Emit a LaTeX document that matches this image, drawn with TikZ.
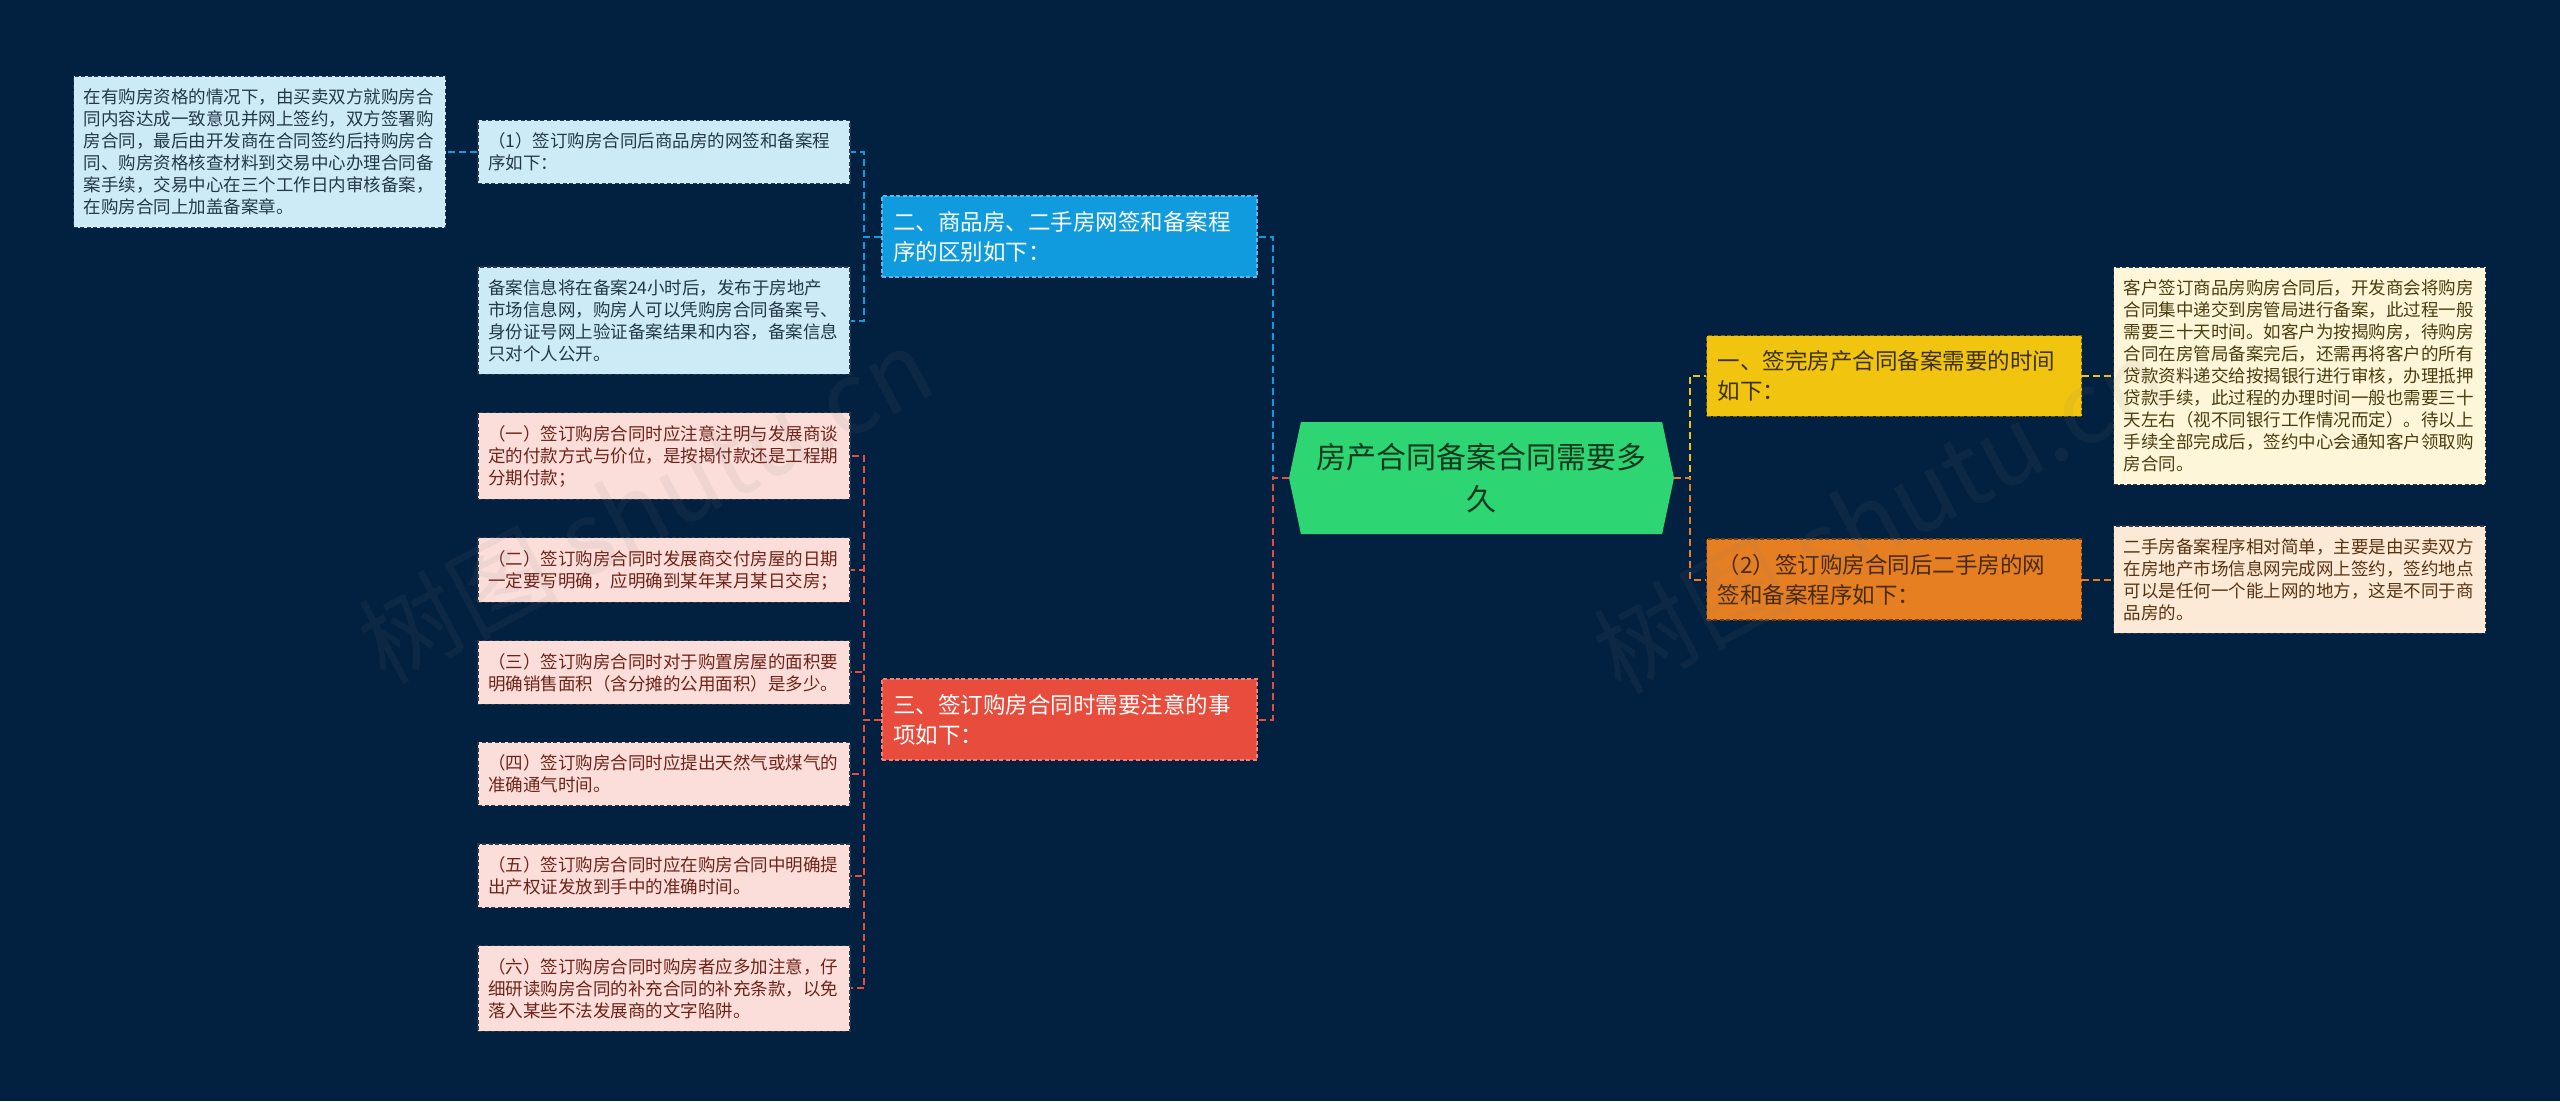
\documentclass[tikz,border=0pt]{standalone}
\usepackage{fontspec}
\setmainfont{Noto Sans CJK SC}
\usetikzlibrary{positioning,shapes.symbols}

\definecolor{bg}{HTML}{02203F}
\definecolor{rootfill}{HTML}{2ED573}
\definecolor{roottext}{HTML}{10391F}
\definecolor{blue1}{HTML}{109BDE}
\definecolor{red1}{HTML}{E74C3C}
\definecolor{yellow1}{HTML}{F1C40F}
\definecolor{orange1}{HTML}{E67E22}
\definecolor{bleaffill}{HTML}{CDEAF7}
\definecolor{rleaffill}{HTML}{FBDEDA}
\definecolor{yleaffill}{HTML}{FDF6D8}
\definecolor{oleaffill}{HTML}{FCE9D6}
\definecolor{bleaftext}{HTML}{23394A}
\definecolor{rleaftext}{HTML}{6E2318}
\definecolor{yleaftext}{HTML}{4B3D0F}
\definecolor{oleaftext}{HTML}{5A3412}
\definecolor{leafline}{HTML}{2B3A4A}

\begin{document}
\begin{tikzpicture}[x=1pt, y=-1pt,
  leaf/.style={draw=leafline, dash pattern=on 4pt off 2.5pt, line width=1.2pt,
               align=left, text width=352pt, inner xsep=10pt, inner ysep=12.5pt,
               font=\fontsize{17.5}{22}\selectfont},
  bleaf/.style={leaf, fill=bleaffill, text=bleaftext},
  rleaf/.style={leaf, fill=rleaffill, text=rleaftext},
  yleaf/.style={leaf, fill=yleaffill, text=yleaftext},
  oleaf/.style={leaf, fill=oleaffill, text=oleaftext},
  branch/.style={dash pattern=on 4pt off 2.5pt, line width=1.2pt, align=left,
                 text width=353pt, inner xsep=11pt, inner ysep=15pt,
                 font=\fontsize{22.5}{30}\selectfont},
  topic/.style={shape=signal, signal to=west and east, signal pointer angle=156,
                fill=rootfill, text=roottext, align=center,
                minimum width=385pt, minimum height=112pt,
                font=\fontsize{30}{41.7}\selectfont},
  link/.style={dash pattern=on 7pt off 4pt, line width=2pt},
  wmark/.style={text=gray, opacity=0.09, rotate=28, font=\fontsize{100}{100}\selectfont}]
  \useasboundingbox (0,0) rectangle (2560,1101);
  \fill[bg] (0,0) rectangle (2560,1101);

  \node[topic] (zhuti) at (1481.5,478) {房产合同备案合同需要多\\久};

  \node[branch, fill=blue1, draw=blue1!70!white, text=white] (qubie) at (1069.5,236.5)
    {二、商品房、二手房网签和备案程\\序的区别如下：};
  \node[branch, fill=red1, draw=red1!70!white, text=white] (zhuyi) at (1069.5,719.5)
    {三、签订购房合同时需要注意的事\\项如下：};
  \node[branch, fill=yellow1, draw=yellow1!50!black, text=yleaftext!80!black] (shijian) at (1894,376)
    {一、签完房产合同备案需要的时间\\如下：};
  \node[branch, fill=orange1, draw=orange1!50!black, text=oleaftext!80!black] (ershou) at (1894,579.5)
    {（2）签订购房合同后二手房的网\\签和备案程序如下：};

  \node[bleaf] (wangqian) at (664,152)
    {（1）签订购房合同后商品房的网签和备案程\\序如下：};
  \node[bleaf, below=82pt of wangqian] (gongkai)
    {备案信息将在备案24小时后，发布于房地产\\市场信息网，购房人可以凭购房合同备案号、\\身份证号网上验证备案结果和内容，备案信息\\只对个人公开。};
  \node[bleaf, left=31pt of wangqian] (zige)
    {在有购房资格的情况下，由买卖双方就购房合\\同内容达成一致意见并网上签约，双方签署购\\房合同，最后由开发商在合同签约后持购房合\\同、购房资格核查材料到交易中心办理合同备\\案手续，交易中心在三个工作日内审核备案，\\在购房合同上加盖备案章。};

  \node[rleaf] (fukuan) at (664,456)
    {（一）签订购房合同时应注意注明与发展商谈\\定的付款方式与价位，是按揭付款还是工程期\\分期付款；};
  \node[rleaf, below=37pt of fukuan] (jiaofang)
    {（二）签订购房合同时发展商交付房屋的日期\\一定要写明确，应明确到某年某月某日交房；};
  \node[rleaf, below=37pt of jiaofang] (mianji)
    {（三）签订购房合同时对于购置房屋的面积要\\明确销售面积（含分摊的公用面积）是多少。};
  \node[rleaf, below=37pt of mianji] (tongqi)
    {（四）签订购房合同时应提出天然气或煤气的\\准确通气时间。};
  \node[rleaf, below=37pt of tongqi] (chanquan)
    {（五）签订购房合同时应在购房合同中明确提\\出产权证发放到手中的准确时间。};
  \node[rleaf, below=37pt of chanquan] (xianjing)
    {（六）签订购房合同时购房者应多加注意，仔\\细研读购房合同的补充合同的补充条款，以免\\落入某些不法发展商的文字陷阱。};

  \node[yleaf, right=31pt of shijian] (guocheng)
    {客户签订商品房购房合同后，开发商会将购房\\合同集中递交到房管局进行备案，此过程一般\\需要三十天时间。如客户为按揭购房，待购房\\合同在房管局备案完后，还需再将客户的所有\\贷款资料递交给按揭银行进行审核，办理抵押\\贷款手续，此过程的办理时间一般也需要三十\\天左右（视不同银行工作情况而定）。待以上\\手续全部完成后，签约中心会通知客户领取购\\房合同。};
  \node[oleaf, right=31pt of ershou] (jiandan)
    {二手房备案程序相对简单，主要是由买卖双方\\在房地产市场信息网完成网上签约，签约地点\\可以是任何一个能上网的地方，这是不同于商\\品房的。};

  % left side
  \draw[link, blue1] (zhuti.west) -- ++(-16,0) |- (qubie.east);
  \draw[link, red1] (zhuti.west) -- ++(-16,0) |- (zhuyi.east);
  \draw[link, blue1] (qubie.west) -- ++(-17,0) |- (wangqian.east);
  \draw[link, blue1] (qubie.west) -- ++(-17,0) |- (gongkai.east);
  \draw[link, blue1] (wangqian.west) -- (zige.east);
  \draw[link, red1] (zhuyi.west) -- ++(-17,0) |- (fukuan.east);
  \draw[link, red1] (zhuyi.west) -- ++(-17,0) |- (jiaofang.east);
  \draw[link, red1] (zhuyi.west) -- ++(-17,0) |- (mianji.east);
  \draw[link, red1] (zhuyi.west) -- ++(-17,0) |- (tongqi.east);
  \draw[link, red1] (zhuyi.west) -- ++(-17,0) |- (chanquan.east);
  \draw[link, red1] (zhuyi.west) -- ++(-17,0) |- (xianjing.east);
  % right side
  \draw[link, yellow1] (zhuti.east) -- ++(16,0) |- (shijian.west);
  \draw[link, orange1] (zhuti.east) -- ++(16,0) |- (ershou.west);
  \draw[link, yellow1] (shijian.east) -- (guocheng.west);
  \draw[link, orange1] (ershou.east) -- (jiandan.west);

  % watermark
  \node[wmark] (wzuo) at (645,505) {树图 shutu.cn};
  \node[wmark] (wyou) at (1880,515) {树图 shutu.cn};
\end{tikzpicture}
\end{document}
